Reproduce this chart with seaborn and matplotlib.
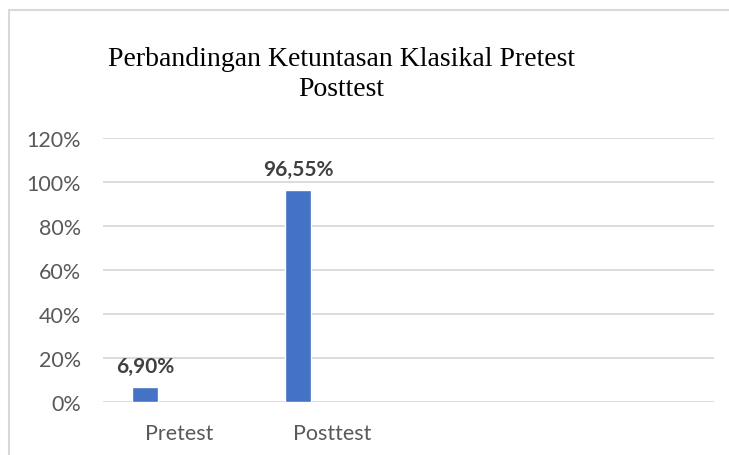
import pandas as pd
import matplotlib.pyplot as plt
import seaborn as sns
from matplotlib.lines import Line2D
from matplotlib.ticker import FuncFormatter

# data
categories = ["Pretest", "Posttest", " ", "  "]
tests = ["Pretest", "Posttest"]
values = [6.90, 96.55]  # percent
series = ["Seri 1", "Seri 2", "Seri 3"]

df = pd.DataFrame({"Tes": tests, "Persentase": values, "Seri": [series[0]] * len(tests)})

sns.set_style("white")
plt.rcParams["font.family"] = ["Lato", "DejaVu Sans"]

fig = plt.figure(figsize=(7.29, 4.56), dpi=100)
ax = fig.add_axes([103 / 729, 1 - 403 / 456, (714 - 103) / 729, (403 - 139) / 456])

sns.barplot(
    data=df, x="Tes", y="Persentase", hue="Seri",
    order=categories, hue_order=series,
    palette={"Seri 1": "#4472C4", "Seri 2": "#ED7D31", "Seri 3": "#A5A5A5"},
    saturation=1, width=0.666, gap=0.235, dodge=True, legend=False, ax=ax,
)

# data labels like "6,90%"
for c in ax.containers:
    if len(c) == 0:
        continue
    labels = [f"{v:.2f}%".replace(".", ",") for v in c.datavalues]
    ax.bar_label(c, labels=labels, padding=8, fontsize=15,
                 fontweight="bold", color="#404040")

ax.set_ylim(0, 120)
ax.set_yticks(range(0, 121, 20))
ax.yaxis.set_major_formatter(FuncFormatter(lambda v, p: f"{v:.0f}%"))
ax.grid(axis="y", color="#D9D9D9", linewidth=1.3)
ax.set_axisbelow(True)
for s in ax.spines.values():
    s.set_visible(False)
ax.tick_params(axis="both", length=0, labelsize=15.5, labelcolor="#595959")
ax.tick_params(axis="y", pad=16)
ax.tick_params(axis="x", pad=15)
ax.set_xlabel("")
ax.set_ylabel("")

fig.text(0.468, 1 - 47 / 456, "Perbandingan Ketuntasan Klasikal Pretest\nPosttest",
         ha="center", va="top", fontsize=20, family="Liberation Serif",
         color="black", linespacing=1.25)

# chart area border (left and top edges visible)
fig.add_artist(Line2D([9 / 729, 9 / 729], [0, 1 - 11 / 456], transform=fig.transFigure,
                      color="#D9D9D9", linewidth=1.5))
fig.add_artist(Line2D([9 / 729, 1], [1 - 11 / 456, 1 - 11 / 456], transform=fig.transFigure,
                      color="#D9D9D9", linewidth=1.5))

fig.savefig("out.png", dpi=100)
